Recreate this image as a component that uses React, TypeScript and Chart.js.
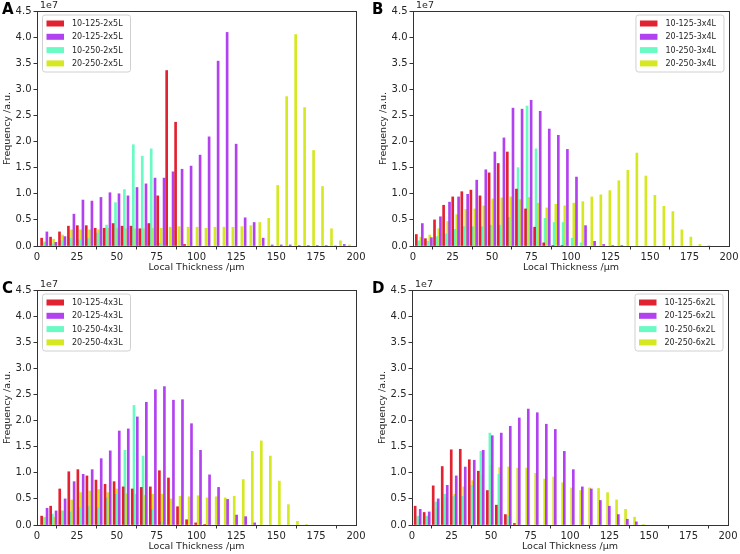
import React, { useEffect, useRef } from "react";
import { Chart, registerables } from "chart.js";

Chart.register(...registerables);

// ---------- shared axis / legend data ----------
const X_TICK_STEP = 25; // ticks 0, 25, ..., 200
const X_MIN = 0;
const X_MAX = 200;
const Y_MIN = 0;
const Y_MAX = 4.5; // x 1e7
const Y_TICK_STEP = 0.5;
const SERIES_PREFIXES = ["10-125", "20-125", "10-250", "20-250"];
const SERIES_COLORS = [
  "rgba(222,10,25,0.9)",
  "rgba(170,45,238,0.9)",
  "rgba(90,250,190,0.9)",
  "rgba(208,230,10,0.9)",
];

// ---------- Panel A: 2x5L (values in 1e7) ----------
const A_10_125 = [0.15, 0.17, 0.27, 0.38, 0.39, 0.39, 0.34, 0.34, 0.43, 0.38, 0.38, 0.33, 0.43, 0.96, 3.36, 2.37, 0.03];
const A_20_125 = [0.27, 0.07, 0.18, 0.61, 0.88, 0.86, 0.93, 1.02, 1.0, 0.96, 1.12, 1.19, 1.3, 1.3, 1.42, 1.47, 1.53, 1.74, 2.09, 3.54, 4.09, 1.95, 0.54, 0.45, 0.15, 0.02, 0.02, 0.02, 0.01, 0.01, 0.01, 0.01, 0.0, 0.03];
const A_10_250 = [0.06, 0.04, 0.1, 0.15, 0.12, 0.14, 0.25, 0.4, 0.83, 1.08, 1.94, 1.72, 1.86, 0.05];
const A_20_250 = [0.08, 0.13, 0.21, 0.31, 0.31, 0.31, 0.31, 0.34, 0.34, 0.33, 0.33, 0.33, 0.34, 0.34, 0.36, 0.37, 0.36, 0.36, 0.34, 0.36, 0.36, 0.36, 0.37, 0.39, 0.45, 0.53, 1.16, 2.86, 4.05, 2.65, 1.83, 1.14, 0.33, 0.1, 0.02];
// histogram bins per series: [first bin centre, bin width] in µm
const A_BINS = [[2.9, 5.6], [6.2, 5.65], [4.4, 5.6], [4.8, 5.62]];

// ---------- Panel B: 3x4L ----------
const B_10_125 = [0.22, 0.14, 0.5, 0.78, 0.94, 1.04, 1.07, 0.96, 1.4, 1.58, 1.8, 1.09, 0.71, 0.36, 0.06, 0.01, 0.01];
const B_20_125 = [0.43, 0.16, 0.56, 0.84, 0.94, 0.99, 1.26, 1.46, 1.8, 2.07, 2.64, 2.62, 2.79, 2.58, 2.24, 2.12, 1.85, 1.32, 0.39, 0.09, 0.03, 0.01, 0.01];
const B_10_250 = [0.1, 0.09, 0.18, 0.23, 0.32, 0.37, 0.37, 0.37, 0.4, 0.4, 0.55, 1.5, 2.68, 1.86, 0.53, 0.45, 0.45, 0.15, 0.06];
const B_20_250 = [0.17, 0.21, 0.33, 0.47, 0.6, 0.7, 0.71, 0.77, 0.9, 0.92, 0.94, 0.89, 0.93, 0.82, 0.73, 0.8, 0.77, 0.82, 0.85, 0.94, 0.98, 1.06, 1.25, 1.45, 1.78, 1.34, 0.97, 0.76, 0.66, 0.31, 0.17, 0.03, 0.01];
const B_BINS = [[2.1, 5.76], [5.9, 5.74], [3.8, 5.7], [4.9, 5.7]];

// ---------- Panel C: 4x3L ----------
const C_10_125 = [0.17, 0.36, 0.69, 1.02, 1.06, 0.94, 0.86, 0.78, 0.83, 0.73, 0.69, 0.72, 0.73, 1.04, 0.9, 0.35, 0.1, 0.04, 0.01];
const C_20_125 = [0.32, 0.27, 0.5, 0.83, 0.97, 1.06, 1.27, 1.42, 1.8, 1.84, 2.07, 2.35, 2.59, 2.65, 2.39, 2.4, 1.94, 1.43, 0.96, 0.72, 0.49, 0.19, 0.16, 0.04];
const C_10_250 = [0.13, 0.21, 0.27, 0.25, 0.33, 0.35, 0.33, 0.52, 0.59, 1.43, 2.29, 1.32, 0.3, 0.06];
const C_20_250 = [0.15, 0.15, 0.27, 0.48, 0.62, 0.65, 0.68, 0.62, 0.69, 0.6, 0.59, 0.57, 0.59, 0.59, 0.5, 0.55, 0.54, 0.56, 0.52, 0.54, 0.52, 0.55, 0.87, 1.41, 1.61, 1.32, 0.84, 0.39, 0.07, 0.01];
const C_BINS = [[2.9, 5.68], [6.3, 5.66], [4.0, 5.68], [4.8, 5.66]];

// ---------- Panel D: 6x2L ----------
const D_10_125 = [0.36, 0.24, 0.75, 1.12, 1.44, 1.45, 1.25, 1.03, 0.66, 0.38, 0.2, 0.03];
const D_20_125 = [0.3, 0.25, 0.5, 0.76, 0.94, 1.11, 1.24, 1.43, 1.71, 1.76, 1.89, 2.05, 2.22, 2.15, 1.93, 1.83, 1.41, 1.06, 0.73, 0.69, 0.47, 0.36, 0.2, 0.11, 0.06];
const D_10_250 = [0.17, 0.17, 0.44, 0.59, 0.55, 0.55, 0.76, 1.41, 1.76, 0.97, 0.18];
const D_20_250 = [0.12, 0.16, 0.32, 0.53, 0.59, 0.73, 0.85, 0.95, 1.14, 1.1, 1.11, 1.09, 1.09, 0.99, 0.88, 0.92, 0.81, 0.71, 0.66, 0.71, 0.7, 0.62, 0.48, 0.3, 0.15, 0.01];
const D_BINS = [[2.0, 5.71], [5.2, 5.7], [3.7, 5.7], [4.3, 5.69]];

const FONT = "'DejaVu Sans', 'Liberation Sans', sans-serif";
const TEXT = "#262626";
const SPINE = "#333333";

type PanelSpec = {
  letter: string;
  suffix: string;
  series: number[][];
  bins: number[][];
  legendSide: "left" | "right";
  left: number;
  top: number;
  area: { l: number; r: number; t: number; b: number };
};

const W = 370;
const H = 277;

const PANELS: PanelSpec[] = [
  { letter: "A", suffix: "2x5L", series: [A_10_125, A_20_125, A_10_250, A_20_250], bins: A_BINS, legendSide: "left", left: 0, top: 0, area: { l: 37, r: 356, t: 11, b: 246 } },
  { letter: "B", suffix: "3x4L", series: [B_10_125, B_20_125, B_10_250, B_20_250], bins: B_BINS, legendSide: "right", left: 370, top: 0, area: { l: 43, r: 359, t: 11, b: 246 } },
  { letter: "C", suffix: "4x3L", series: [C_10_125, C_20_125, C_10_250, C_20_250], bins: C_BINS, legendSide: "left", left: 0, top: 277, area: { l: 37, r: 356, t: 13, b: 248 } },
  { letter: "D", suffix: "6x2L", series: [D_10_125, D_20_125, D_10_250, D_20_250], bins: D_BINS, legendSide: "right", left: 370, top: 277, area: { l: 42, r: 358, t: 13, b: 248 } },
];

function Panel({ spec }: { spec: PanelSpec }) {
  const ref = useRef<HTMLCanvasElement | null>(null);

  useEffect(() => {
    if (!ref.current) return;
    const labels = SERIES_PREFIXES.map((p) => `${p}-${spec.suffix}`);
    const datasets = spec.series.map((vals, si) => {
      const [first, width] = spec.bins[si];
      return {
        label: labels[si],
        data: vals.map((v, i) => ({ x: first + i * width, y: v })),
        backgroundColor: SERIES_COLORS[si],
        borderWidth: 0,
        barThickness: 2,
        grouped: false,
      };
    });

    const decor = {
      id: "decor",
      afterDraw(chart: any) {
        const { ctx, chartArea: ca } = chart;
        ctx.save();
        // spines
        ctx.strokeStyle = SPINE;
        ctx.lineWidth = 1;
        ctx.strokeRect(Math.round(ca.left) + 0.5, Math.round(ca.top) + 0.5, Math.round(ca.right - ca.left), Math.round(ca.bottom - ca.top));

        // panel letter
        ctx.fillStyle = "#000";
        ctx.font = `bold 15px ${FONT}`;
        ctx.textAlign = "left";
        ctx.textBaseline = "middle";
        ctx.fillText(spec.letter, 2, ca.top - 1);

        // offset text
        ctx.fillStyle = TEXT;
        ctx.font = `9.5px ${FONT}`;
        ctx.textBaseline = "alphabetic";
        ctx.fillText("1e7", ca.left + 3, ca.top - 3);

        // x title
        ctx.textAlign = "center";
        ctx.textBaseline = "middle";
        ctx.font = `9.5px ${FONT}`;
        ctx.fillText("Local Thickness /µm", (ca.left + ca.right) / 2, ca.bottom + 22);

        // y title
        ctx.save();
        ctx.translate(ca.left - 29, (ca.top + ca.bottom) / 2);
        ctx.rotate(-Math.PI / 2);
        ctx.fillText("Frequency /a.u.", 0, 0);
        ctx.restore();

        // legend
        const lw = 88;
        const lh = 57;
        const bx = spec.legendSide === "left" ? ca.left + 5.5 : ca.right - 5 - lw;
        const by = ca.top + 4;
        ctx.beginPath();
        const r = 2.5;
        ctx.moveTo(bx + r, by);
        ctx.lineTo(bx + lw - r, by);
        ctx.quadraticCurveTo(bx + lw, by, bx + lw, by + r);
        ctx.lineTo(bx + lw, by + lh - r);
        ctx.quadraticCurveTo(bx + lw, by + lh, bx + lw - r, by + lh);
        ctx.lineTo(bx + r, by + lh);
        ctx.quadraticCurveTo(bx, by + lh, bx, by + lh - r);
        ctx.lineTo(bx, by + r);
        ctx.quadraticCurveTo(bx, by, bx + r, by);
        ctx.closePath();
        ctx.fillStyle = "rgba(255,255,255,0.85)";
        ctx.fill();
        ctx.strokeStyle = "#d0d0d0";
        ctx.lineWidth = 1;
        ctx.stroke();
        ctx.font = `8px ${FONT}`;
        ctx.textAlign = "left";
        ctx.textBaseline = "middle";
        chart.data.datasets.forEach((ds: any, i: number) => {
          const ry = by + 8.5 + i * 13.3;
          ctx.fillStyle = ds.backgroundColor;
          ctx.fillRect(bx + 4, ry - 3, 17.5, 6);
          ctx.fillStyle = TEXT;
          ctx.fillText(ds.label, bx + 29.5, ry + 0.5);
        });
        ctx.restore();
      },
    };

    const chart = new Chart(ref.current, {
      type: "bar",
      data: { datasets: datasets as any },
      options: {
        animation: false,
        responsive: false,
        maintainAspectRatio: false,
        layout: { padding: { left: 0, top: spec.area.t, right: W - spec.area.r, bottom: 0 } },
        plugins: { legend: { display: false }, tooltip: { enabled: false }, title: { display: false } },
        scales: {
          x: {
            type: "linear",
            min: X_MIN,
            max: X_MAX,
            offset: false,
            grid: { display: true, drawOnChartArea: false, drawTicks: true, tickLength: 3.5, color: SPINE },
            border: { display: false },
            ticks: { stepSize: X_TICK_STEP, color: TEXT, font: { family: FONT, size: 10 }, padding: 1.5, maxRotation: 0, autoSkip: false },
            afterFit: (s: any) => {
              s.height = H - spec.area.b;
            },
          },
          y: {
            type: "linear",
            min: Y_MIN,
            max: Y_MAX,
            grid: { display: true, drawOnChartArea: false, drawTicks: true, tickLength: 3.5, color: SPINE },
            border: { display: false },
            ticks: {
              stepSize: Y_TICK_STEP,
              color: TEXT,
              font: { family: FONT, size: 10 },
              padding: 2,
              callback: (v: any) => Number(v).toFixed(1),
            },
            afterFit: (s: any) => {
              s.width = spec.area.l;
            },
          },
        },
      } as any,
      plugins: [decor],
    });
    return () => chart.destroy();
  }, [spec]);

  return (
    <div style={{ position: "absolute", left: spec.left, top: spec.top, width: W, height: H }}>
      <canvas ref={ref} width={W} height={H} style={{ width: W, height: H, display: "block" }} />
    </div>
  );
}

export default function App() {
  return (
    <div style={{ position: "absolute", left: 0, top: 0, width: 740, height: 554, background: "#fff", overflow: "hidden" }}>
      {PANELS.map((p) => (
        <Panel key={p.letter} spec={p} />
      ))}
    </div>
  );
}
